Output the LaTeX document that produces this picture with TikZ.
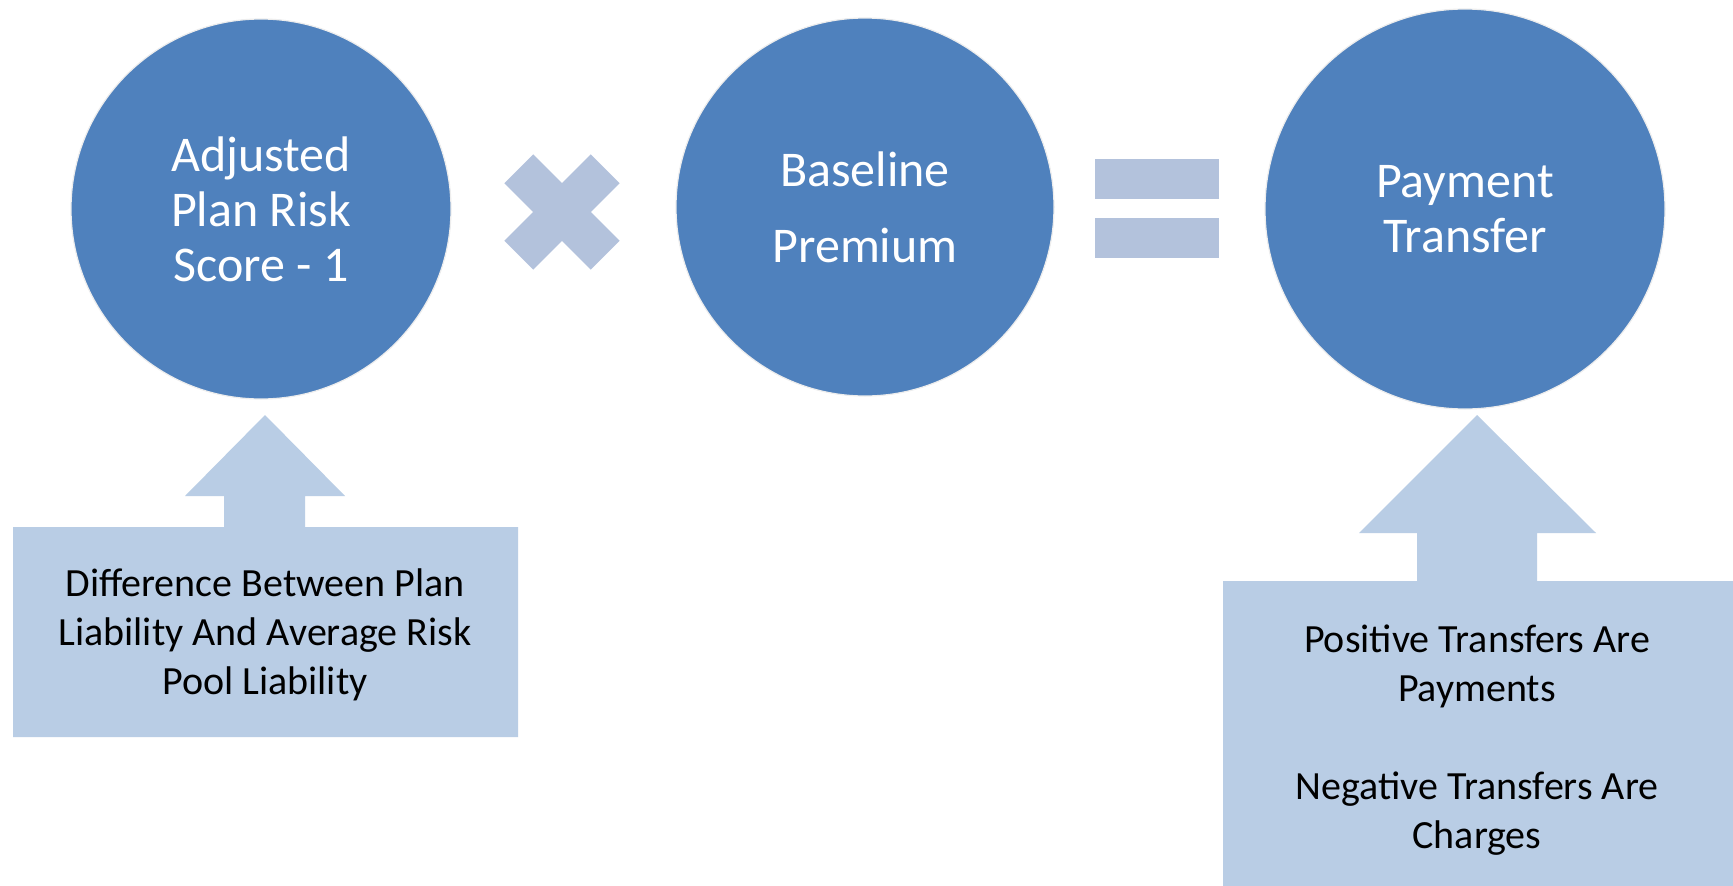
\documentclass[tikz,border=0pt]{standalone}
\usepackage{fontspec}
\setmainfont{Carlito}
\definecolor{circblue}{HTML}{4F81BD}
\definecolor{calloutblue}{HTML}{B9CDE5}
\definecolor{opblue}{HTML}{B3C2DC}
\begin{document}
\begin{tikzpicture}[x=1pt,y=-1pt,
  bigcirc/.style={circle, fill=circblue, draw=black!7, line width=1.2pt, inner sep=0pt,
    text=white, align=center, font=\fontsize{50}{55}\selectfont},
  calloutshape/.style={fill=calloutblue},
  opshape/.style={fill=opblue},
  callouttext/.style={align=center, inner sep=0pt, text=black, font=\fontsize{40}{49}\selectfont}]
\useasboundingbox (0,0) rectangle (1733,886);
\fill[white] (0,0) rectangle (1733,886);

% circles
\node[bigcirc, minimum size=380pt] (c1) at (261,209) {Adjusted\\Plan Risk\\Score - 1};
\node[bigcirc, minimum size=378pt, font=\fontsize{50}{76}\selectfont] (c2) at (865,207) {Baseline\\Premium};
\node[bigcirc, minimum size=400pt] (c3) at (1465,209) {Payment\\Transfer};

% multiply sign
\begin{scope}[shift={(562,212)}, rotate=45]
  \fill[opshape] (-20.5,-61) -- (20.5,-61) -- (20.5,-20.5) -- (61,-20.5) -- (61,20.5) -- (20.5,20.5)
    -- (20.5,61) -- (-20.5,61) -- (-20.5,20.5) -- (-61,20.5) -- (-61,-20.5) -- (-20.5,-20.5) -- cycle;
\end{scope}

% equals sign
\fill[opshape] (1095,159) rectangle (1219,199);
\fill[opshape] (1095,218) rectangle (1219,258);

% left callout
\fill[calloutshape] (13,737) -- (13,527) -- (224,527) -- (224,496) -- (185,496) -- (265,415)
  -- (345,496) -- (305,496) -- (305,527) -- (518,527) -- (518,737) -- cycle;
\node[callouttext] (t1) at (265,635) {Difference Between Plan\\Liability And Average Risk\\Pool Liability};

% right callout
\fill[calloutshape] (1223,886) -- (1223,581) -- (1417,581) -- (1417,533) -- (1359,533) -- (1477,415)
  -- (1596,533) -- (1537,533) -- (1537,581) -- (1733,581) -- (1733,886) -- cycle;
\node[callouttext] (t2) at (1477,740) {Positive Transfers Are\\Payments\\\mbox{}\\Negative Transfers Are\\Charges};
\end{tikzpicture}
\end{document}
